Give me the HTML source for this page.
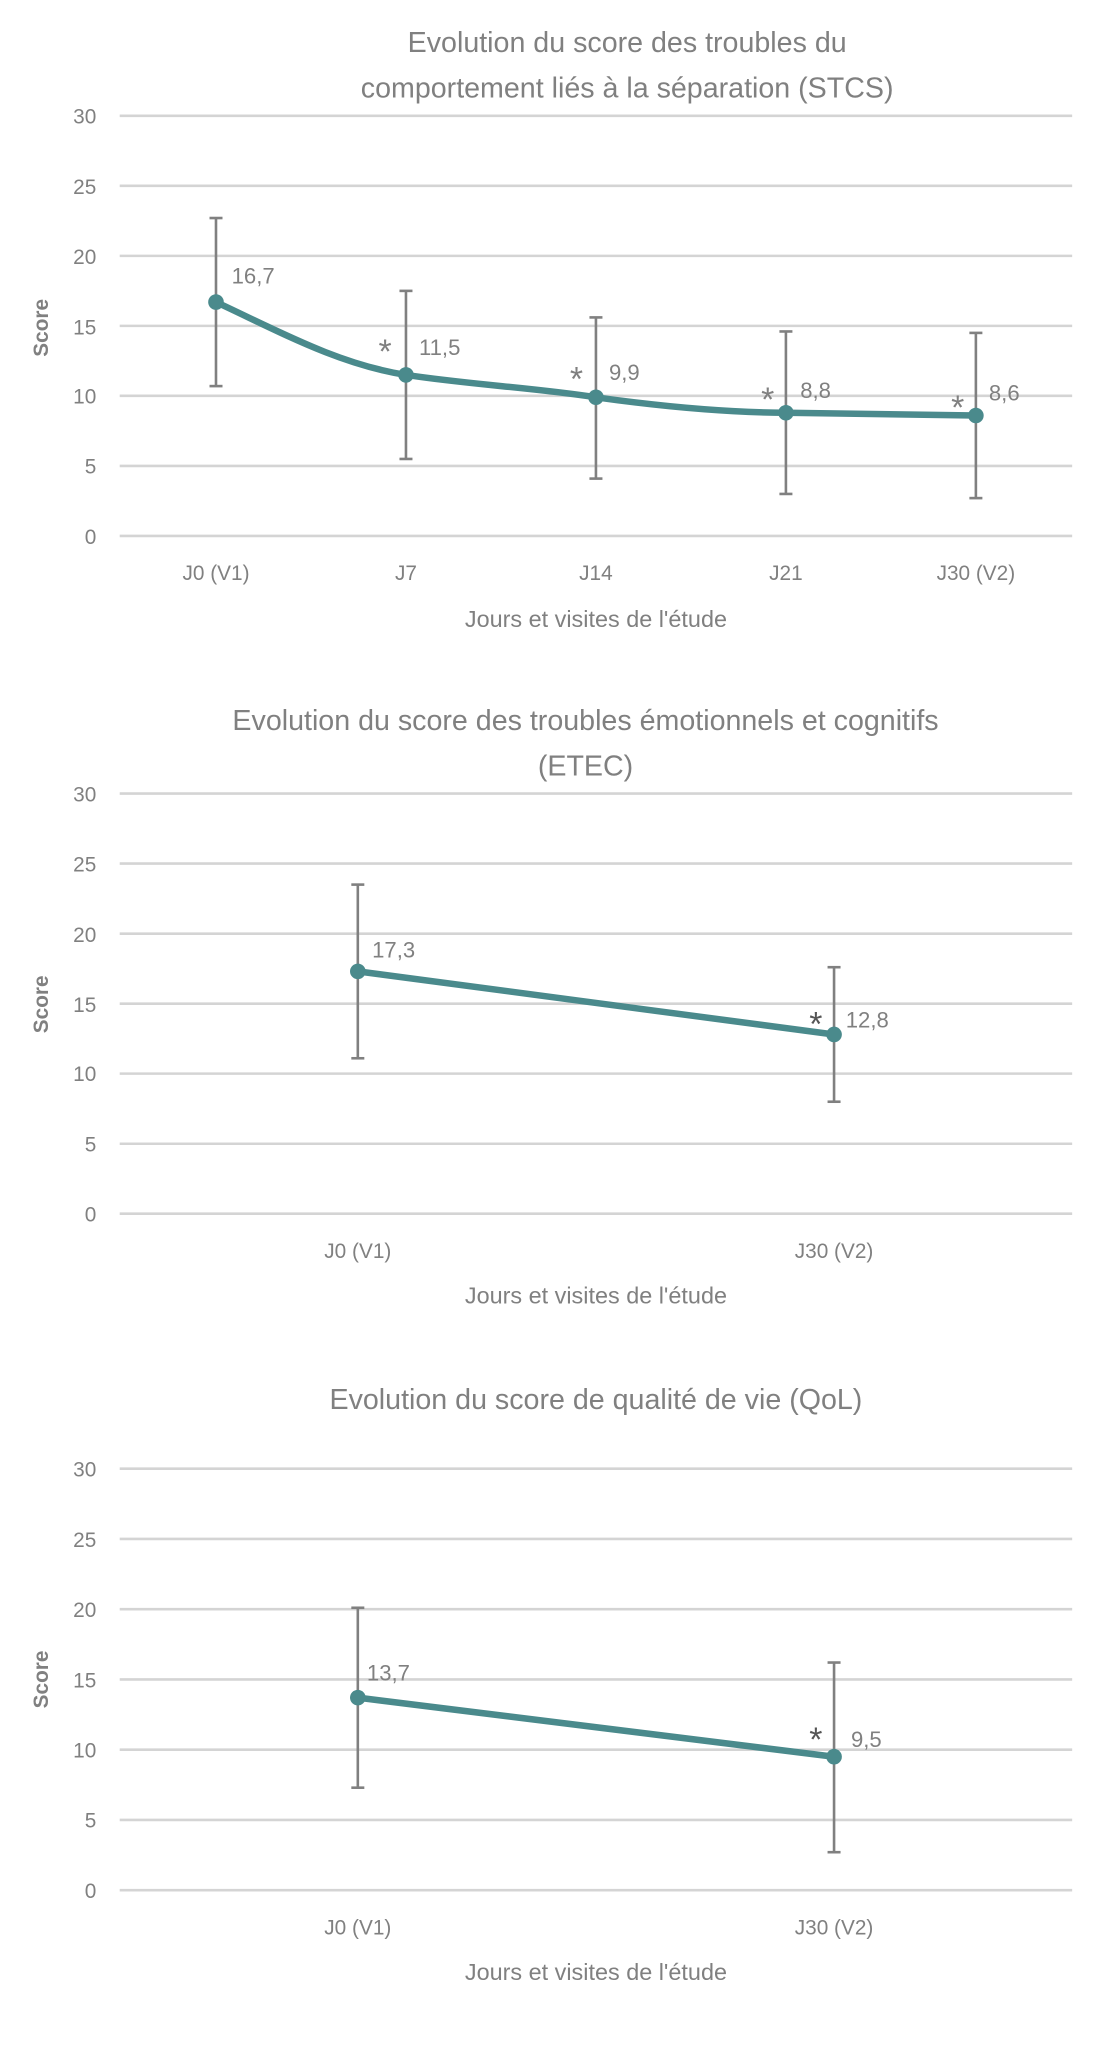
<!DOCTYPE html>
<html><head><meta charset="utf-8"><style>
html,body{margin:0;padding:0;background:#fff;}
svg{display:block;}
text{font-family:"Liberation Sans",sans-serif;fill:#808080;}
.t{font-size:22px;}
.k{font-size:16px;}
.d{font-size:17px;}
.s{font-size:26px;fill:#555;}
.g{stroke:#d4d4d4;stroke-width:2;}
.e{stroke:#808080;stroke-width:2;}
.l{stroke:#4a8a8c;stroke-width:5;fill:none;stroke-linejoin:round;}
.p{fill:#4a8a8c;}
</style></head><body>
<svg width="1106" height="2045" viewBox="0 0 850 1572" preserveAspectRatio="none">
<!-- Chart 1 -->
<text class="t" x="482" y="40" text-anchor="middle">Evolution du score des troubles du</text>
<text class="t" x="482" y="75" text-anchor="middle">comportement liés à la séparation (STCS)</text>
<g class="g"><line x1="92" x2="824" y1="89" y2="89"/><line x1="92" x2="824" y1="142.8" y2="142.8"/><line x1="92" x2="824" y1="196.7" y2="196.7"/><line x1="92" x2="824" y1="250.5" y2="250.5"/><line x1="92" x2="824" y1="304.3" y2="304.3"/><line x1="92" x2="824" y1="358.2" y2="358.2"/><line x1="92" x2="824" y1="412" y2="412"/></g>
<g class="k" text-anchor="end"><text x="74" y="95">30</text><text x="74" y="149">25</text><text x="74" y="203">20</text><text x="74" y="257">15</text><text x="74" y="310">10</text><text x="74" y="364">5</text><text x="74" y="418">0</text></g>
<text class="k" x="37" y="252" text-anchor="middle" transform="rotate(-90 37 252)" font-weight="bold">Score</text>
<g class="k" text-anchor="middle"><text x="166" y="446">J0 (V1)</text><text x="312" y="446">J7</text><text x="458" y="446">J14</text><text x="604" y="446">J21</text><text x="750" y="446">J30 (V2)</text></g>
<text class="k" x="458" y="482" text-anchor="middle" style="font-size:18px">Jours et visites de l'étude</text>
<g class="e"><line x1="166" x2="166" y1="167.6" y2="296.8"/><line x1="161" x2="171" y1="167.6" y2="167.6"/><line x1="161" x2="171" y1="296.8" y2="296.8"/>
<line x1="312" x2="312" y1="223.6" y2="352.8"/><line x1="307" x2="317" y1="223.6" y2="223.6"/><line x1="307" x2="317" y1="352.8" y2="352.8"/>
<line x1="458" x2="458" y1="244" y2="367.9"/><line x1="453" x2="463" y1="244" y2="244"/><line x1="453" x2="463" y1="367.9" y2="367.9"/>
<line x1="604" x2="604" y1="254.8" y2="379.7"/><line x1="599" x2="609" y1="254.8" y2="254.8"/><line x1="599" x2="609" y1="379.7" y2="379.7"/>
<line x1="750" x2="750" y1="255.9" y2="382.9"/><line x1="745" x2="755" y1="255.9" y2="255.9"/><line x1="745" x2="755" y1="382.9" y2="382.9"/></g>
<path class="l" d="M166,232.2 C215,255 260,280 312,288.2 C365,296 410,298 458,305.4 C505,312 555,317 604,317.3 C650,318 700,319 750,319.4"/>
<g class="p"><circle cx="166" cy="232.2" r="6"/><circle cx="312" cy="288.2" r="6"/><circle cx="458" cy="305.4" r="6"/><circle cx="604" cy="317.3" r="6"/><circle cx="750" cy="319.4" r="6"/></g>
<g class="d"><text x="178" y="218">16,7</text><text x="322" y="273">11,5</text><text x="468" y="292">9,9</text><text x="615" y="306">8,8</text><text x="760" y="308">8,6</text></g>
<g class="s" text-anchor="middle"><text x="296" y="279">*</text><text x="443" y="300">*</text><text x="590" y="316">*</text><text x="736" y="322">*</text></g>

<!-- Chart 2 -->
<text class="t" x="450" y="561" text-anchor="middle">Evolution du score des troubles émotionnels et cognitifs</text>
<text class="t" x="450" y="596" text-anchor="middle">(ETEC)</text>
<g class="g"><line x1="92" x2="824" y1="610" y2="610"/><line x1="92" x2="824" y1="663.8" y2="663.8"/><line x1="92" x2="824" y1="717.7" y2="717.7"/><line x1="92" x2="824" y1="771.5" y2="771.5"/><line x1="92" x2="824" y1="825.3" y2="825.3"/><line x1="92" x2="824" y1="879.2" y2="879.2"/><line x1="92" x2="824" y1="933" y2="933"/></g>
<g class="k" text-anchor="end"><text x="74" y="616">30</text><text x="74" y="670">25</text><text x="74" y="724">20</text><text x="74" y="778">15</text><text x="74" y="831">10</text><text x="74" y="885">5</text><text x="74" y="939">0</text></g>
<text class="k" x="37" y="772" text-anchor="middle" transform="rotate(-90 37 772)" font-weight="bold">Score</text>
<g class="k" text-anchor="middle"><text x="275" y="967">J0 (V1)</text><text x="641" y="967">J30 (V2)</text></g>
<text class="k" x="458" y="1002" text-anchor="middle" style="font-size:18px">Jours et visites de l'étude</text>
<g class="e"><line x1="275" x2="275" y1="680" y2="813.5"/><line x1="270" x2="280" y1="680" y2="680"/><line x1="270" x2="280" y1="813.5" y2="813.5"/>
<line x1="641" x2="641" y1="743.5" y2="846.9"/><line x1="636" x2="646" y1="743.5" y2="743.5"/><line x1="636" x2="646" y1="846.9" y2="846.9"/></g>
<polyline class="l" points="275,746.7 641,795.2"/>
<g class="p"><circle cx="275" cy="746.7" r="6"/><circle cx="641" cy="795.2" r="6"/></g>
<g class="d"><text x="286" y="736">17,3</text><text x="650" y="790">12,8</text></g>
<text class="s" x="627" y="796" text-anchor="middle">*</text>

<!-- Chart 3 -->
<text class="t" x="458" y="1083" text-anchor="middle">Evolution du score de qualité de vie (QoL)</text>
<g class="g"><line x1="92" x2="824" y1="1129" y2="1129"/><line x1="92" x2="824" y1="1183" y2="1183"/><line x1="92" x2="824" y1="1237" y2="1237"/><line x1="92" x2="824" y1="1291" y2="1291"/><line x1="92" x2="824" y1="1345" y2="1345"/><line x1="92" x2="824" y1="1399" y2="1399"/><line x1="92" x2="824" y1="1453" y2="1453"/></g>
<g class="k" text-anchor="end"><text x="74" y="1135">30</text><text x="74" y="1189">25</text><text x="74" y="1243">20</text><text x="74" y="1297">15</text><text x="74" y="1351">10</text><text x="74" y="1405">5</text><text x="74" y="1459">0</text></g>
<text class="k" x="37" y="1291" text-anchor="middle" transform="rotate(-90 37 1291)" font-weight="bold">Score</text>
<g class="k" text-anchor="middle"><text x="275" y="1487">J0 (V1)</text><text x="641" y="1487">J30 (V2)</text></g>
<text class="k" x="458" y="1522" text-anchor="middle" style="font-size:18px">Jours et visites de l'étude</text>
<g class="e"><line x1="275" x2="275" y1="1235.9" y2="1374.2"/><line x1="270" x2="280" y1="1235.9" y2="1235.9"/><line x1="270" x2="280" y1="1374.2" y2="1374.2"/>
<line x1="641" x2="641" y1="1278" y2="1423.8"/><line x1="636" x2="646" y1="1278" y2="1278"/><line x1="636" x2="646" y1="1423.8" y2="1423.8"/></g>
<polyline class="l" points="275,1305 641,1350.4"/>
<g class="p"><circle cx="275" cy="1305" r="6"/><circle cx="641" cy="1350.4" r="6"/></g>
<g class="d"><text x="282" y="1292">13,7</text><text x="654" y="1343">9,5</text></g>
<text class="s" x="627" y="1346" text-anchor="middle">*</text>
</svg>
</body></html>
